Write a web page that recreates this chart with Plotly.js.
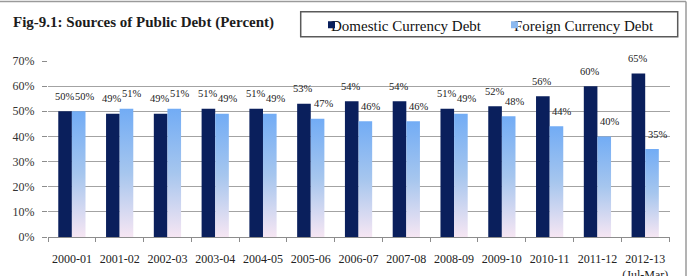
<!DOCTYPE html>
<html>
<head>
<meta charset="utf-8">
<script src="https://cdn.plot.ly/plotly-3.0.1.min.js"></script>
<style>
  html, body { margin: 0; padding: 0; background: #fff; }
  #chart { width: 690px; height: 276px; }
</style>
</head>
<body>
<div id="chart"></div>
<script>
// Sources of public debt by fiscal year, share in percent
var categories = ['2000-01', '2001-02', '2002-03', '2003-04', '2004-05', '2005-06', '2006-07',
                  '2007-08', '2008-09', '2009-10', '2010-11', '2011-12', '2012-13'];
var tickLabels = ['2000-01', '2001-02', '2002-03', '2003-04', '2004-05', '2005-06', '2006-07',
                  '2007-08', '2008-09', '2009-10', '2010-11', '2011-12', '2012-13<br>(Jul-Mar)'];
var domestic = [50, 49, 49, 51, 51, 53, 54, 54, 51, 52, 56, 60, 65];
var foreign  = [50, 51, 51, 49, 49, 47, 46, 46, 49, 48, 44, 40, 35];
var seriesNames = ['Domestic Currency Debt', 'Foreign Currency Debt'];

var SERIF = 'Liberation Serif, Times New Roman, serif';
var NAVY = '#0a1f5c';
var SKY = '#8cb9ef';

// plot-area geometry in pixels, used to place paper-referenced decorations
var W = 690, H = 276, ML = 48, MR = 20, MT = 61, MB = 39;
var PW = W - ML - MR, PH = H - MT - MB;
function px(x) { return (x - ML) / PW; }
function py(y) { return (H - MB - y) / PH; }

var data = [
  { type: 'bar', x: categories, y: domestic, name: seriesNames[0],
    marker: { color: NAVY }, hoverinfo: 'skip' },
  { type: 'bar', x: categories, y: foreign, name: seriesNames[1],
    marker: { color: SKY }, hoverinfo: 'skip' }
];

// value labels above each bar
var annotations = [];
var half = 6.8;
categories.forEach(function (c, i) {
  annotations.push({ x: c, y: domestic[i], xref: 'x', yref: 'y', text: domestic[i] + '%',
    showarrow: false, xshift: -half - 0.5, yshift: 15,
    font: { family: SERIF, size: 10.5, color: '#222' } });
  annotations.push({ x: c, y: foreign[i], xref: 'x', yref: 'y', text: foreign[i] + '%',
    showarrow: false, xshift: half + 6, yshift: 15,
    font: { family: SERIF, size: 10.5, color: '#222' } });
});

var layout = {
  width: W, height: H,
  margin: { l: ML, r: MR, t: MT, b: MB, pad: 0, autoexpand: false },
  paper_bgcolor: '#fff', plot_bgcolor: '#fff',
  font: { family: SERIF },
  barmode: 'group', bargap: 0.43, bargroupgap: 0,
  title: { text: '<b>Fig-9.1: Sources of Public Debt (Percent)</b>',
    xref: 'container', yref: 'container', x: 13 / W, xanchor: 'left',
    y: 1 - 21.5 / H, yanchor: 'middle',
    font: { family: SERIF, size: 15, color: '#1c1c1c' } },
  xaxis: {
    type: 'category', tickvals: categories, ticktext: tickLabels, tickangle: 0,
    showline: true, linecolor: '#8c8c8c', linewidth: 1,
    ticks: 'outside', tickson: 'boundaries', ticklen: 4, tickcolor: '#8c8c8c',
    ticklabelstandoff: 11, showgrid: false, automargin: false,
    tickfont: { family: SERIF, size: 12, color: '#222' }
  },
  yaxis: {
    range: [0, 70], dtick: 10, ticksuffix: '%',
    showgrid: true, gridcolor: '#a3a3a3', gridwidth: 1, zeroline: false,
    showline: false, ticks: 'outside', ticklen: 5, tickcolor: '#8c8c8c',
    ticklabelstandoff: 5, automargin: false,
    tickfont: { family: SERIF, size: 12, color: '#333' }
  },
  showlegend: true,
  legend: {
    orientation: 'h', xref: 'paper', yref: 'paper',
    x: px(298), xanchor: 'left', y: py(8.5), yanchor: 'top',
    bgcolor: 'rgba(0,0,0,0)', borderwidth: 0,
    itemwidth: 30, entrywidth: 138, entrywidthmode: 'pixels',
    font: { family: SERIF, size: 15, color: '#111' }
  },
  shapes: [
    // legend frame
    { type: 'rect', xref: 'paper', yref: 'paper',
      x0: px(300.7), x1: px(677.7), y0: py(36.7), y1: py(11.7),
      line: { color: '#5a5a5a', width: 1.5 }, fillcolor: 'rgba(0,0,0,0)', layer: 'below' },
    // outer chart frame (top and right edges)
    { type: 'line', xref: 'paper', yref: 'paper',
      x0: px(0), x1: px(686), y0: py(1.5), y1: py(1.5),
      line: { color: '#9a9a9a', width: 1.5 } },
    { type: 'line', xref: 'paper', yref: 'paper',
      x0: px(686), x1: px(686), y0: py(1.5), y1: py(H),
      line: { color: '#9a9a9a', width: 1.5 } }
  ],
  annotations: annotations
};

var gd = document.getElementById('chart');
Plotly.newPlot(gd, data, layout, { staticPlot: true, displayModeBar: false }).then(function () {
  var NS = 'http://www.w3.org/2000/svg';
  var svg = gd.querySelector('.main-svg');
  var defs = svg.querySelector('defs') || svg.insertBefore(document.createElementNS(NS, 'defs'), svg.firstChild);

  // vertical fade for the foreign-currency bars: blue at the top, pale pink at the base
  var grad = document.createElementNS(NS, 'linearGradient');
  grad.setAttribute('id', 'foreignFade');
  grad.setAttribute('x1', '0'); grad.setAttribute('y1', '0');
  grad.setAttribute('x2', '0'); grad.setAttribute('y2', '1');
  [['0', '#72acf5'], ['0.5', '#a6c6ee'], ['1', '#f6e6f3']].forEach(function (s) {
    var st = document.createElementNS(NS, 'stop');
    st.setAttribute('offset', s[0]);
    st.setAttribute('stop-color', s[1]);
    grad.appendChild(st);
  });
  defs.appendChild(grad);

  var traces = gd.querySelectorAll('.barlayer .trace');
  if (traces[1]) {
    traces[1].querySelectorAll('path').forEach(function (p) {
      p.style.fill = 'url(#foreignFade)';
    });
  }

  // small square legend keys sitting right next to their labels
  gd.querySelectorAll('.legend .legendpoints path').forEach(function (p) {
    p.setAttribute('d', 'M17,3.5H10V-3.5H17Z');
  });
  gd.querySelectorAll('.legend .legendtext').forEach(function (t) {
    t.setAttribute('x', '33');
  });
});
</script>
</body>
</html>
